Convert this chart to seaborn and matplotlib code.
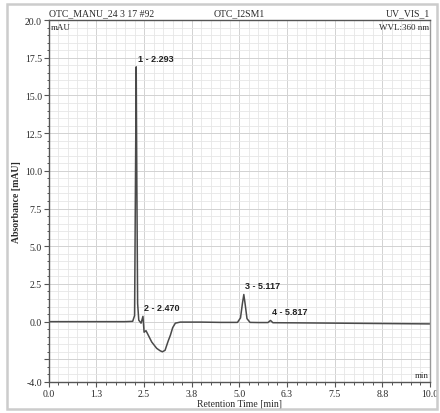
import numpy as np
import pandas as pd
import matplotlib
matplotlib.use("Agg")
import matplotlib.pyplot as plt
import seaborn as sns
from matplotlib.patches import Rectangle

# chromatogram trace (time in min, absorbance in mAU)
times = [0.00, 0.50, 1.00, 1.50, 2.00, 2.20, 2.25, 2.27, 2.293, 2.31, 2.33, 2.36,
         2.42, 2.47, 2.50, 2.55, 2.62, 2.70, 2.83, 2.92, 2.98, 3.05, 3.13, 3.19,
         3.25, 3.32, 3.45, 4.00, 4.50, 4.95, 5.03, 5.08, 5.117, 5.15, 5.20, 5.28,
         5.50, 5.75, 5.817, 5.88, 6.50, 7.50, 8.50, 9.50, 10.00]
absorbance = [0.00, 0.00, 0.00, 0.00, 0.00, 0.02, 0.40, 8.00, 16.90, 9.00, 1.20, 0.10,
              -0.10, 0.35, -0.70, -0.60, -0.95, -1.35, -1.77, -1.93, -2.00, -1.90, -1.30, -0.90,
              -0.40, -0.10, -0.03, -0.03, -0.05, -0.05, 0.25, 1.20, 1.80, 1.20, 0.20, -0.05,
              -0.06, -0.06, 0.08, -0.07, -0.08, -0.10, -0.12, -0.14, -0.15]

peak_labels = ["1 - 2.293", "2 - 2.470", "3 - 5.117", "4 - 5.817"]
peak_times = [2.293, 2.470, 5.117, 5.817]
peak_heights = [16.9, 0.35, 1.8, 0.08]

xtick_pos = [0.0, 1.25, 2.5, 3.75, 5.0, 6.25, 7.5, 8.75, 10.0]
xtick_labels = ["0.0", "1.3", "2.5", "3.8", "5.0", "6.3", "7.5", "8.8", "10.0"]
ytick_pos = [-4.0, -2.5, 0.0, 2.5, 5.0, 7.5, 10.0, 12.5, 15.0, 17.5, 20.0]
ytick_labels = ["-4.0", "", "0.0", "2.5", "5.0", "7.5", "10.0", "12.5", "15.0", "17.5", "20.0"]

df = pd.DataFrame({"time": times, "abs": absorbance})

sns.set_style("white")
plt.rcParams["font.family"] = ["Liberation Serif", "DejaVu Serif"]

fig = plt.figure(figsize=(4.4, 4.14), dpi=100)
ax = fig.add_axes([0.111, 0.075, 0.866, 0.874])

# outer grey frame
fig.patches.append(Rectangle((0.016, 0.01), 0.977, 0.978, transform=fig.transFigure,
                             fill=False, edgecolor="#cccccc", linewidth=1.8))

sns.lineplot(data=df, x="time", y="abs", color="#4a4a4a", linewidth=1.1, ax=ax,
             estimator=None, sort=False)

ax.set_xlim(0, 10)
ax.set_ylim(-4, 20)
ax.set_xticks(xtick_pos)
ax.set_xticklabels(xtick_labels)
ax.set_yticks(ytick_pos)
ax.set_yticklabels(ytick_labels)
ax.set_xticks(np.arange(0, 10.01, 0.25), minor=True)
ax.set_yticks(np.arange(-4, 20.01, 0.5), minor=True)
ax.grid(which="minor", color="#e6e6e6", linewidth=0.6)
ax.grid(which="major", color="#d2d2d2", linewidth=0.7)
ax.set_axisbelow(True)
ax.tick_params(which="major", length=3.5, width=0.8, color="#555555", labelsize=7,
               labelcolor="#2a2a2a", pad=1.5)
ax.tick_params(which="minor", length=1.8, width=0.7, color="#555555")
ax.tick_params(left=True, bottom=True, which="both")

for side in ["left", "bottom", "top"]:
    ax.spines[side].set_color("#555555")
    ax.spines[side].set_linewidth(1.0)
ax.spines["right"].set_color("#999999")
ax.spines["right"].set_linewidth(1.0)

ax.set_xlabel("Retention Time [min]", fontsize=7, labelpad=1, color="#2a2a2a")
ax.set_ylabel("Absorbance [mAU]", fontsize=7, labelpad=3, fontweight="bold",
              color="#2a2a2a")

ax.set_title("OTC_MANU_24 3 17 #92", loc="left", fontsize=7, pad=3.5, color="#2a2a2a")
ax.set_title("OTC_I2SM1", loc="center", fontsize=7, pad=3.5, color="#2a2a2a")
ax.set_title("UV_VIS_1", loc="right", fontsize=7, pad=3.5, color="#2a2a2a")

ax.text(0.005, 0.993, "mAU", transform=ax.transAxes, fontsize=6.5, va="top", ha="left",
        color="#2a2a2a")
ax.text(0.997, 0.993, "WVL:360 nm", transform=ax.transAxes, fontsize=6.5, va="top",
        ha="right", color="#2a2a2a")
ax.text(0.997, 0.008, "min", transform=ax.transAxes, fontsize=6.5, va="bottom",
        ha="right", color="#2a2a2a")

for lab, t, h in zip(peak_labels, peak_times, peak_heights):
    ax.annotate(lab, xy=(t, h), xytext=(1, 3), textcoords="offset points",
                fontsize=6.5, fontweight="bold", family=["Liberation Sans", "DejaVu Sans"],
                ha="left", va="bottom", color="#222222")

fig.savefig("out.png", dpi=100)
